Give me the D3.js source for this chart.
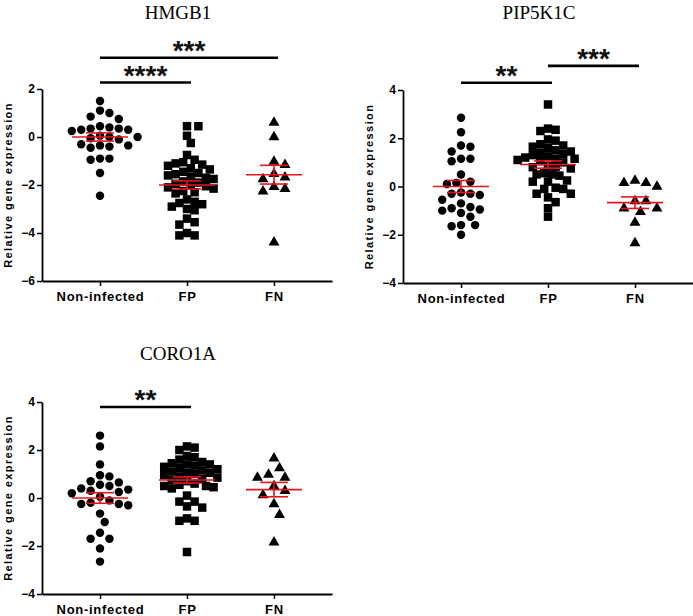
<!DOCTYPE html>
<html>
<head>
<meta charset="utf-8">
<script src="https://cdn.jsdelivr.net/npm/d3@7"></script>
<style>
  body { margin: 0; background: #fff; }
  svg { display: block; }
</style>
</head>
<body>
<svg id="chart" width="693" height="616"></svg>
<script>
var categories = ["Non-infected", "FP", "FN"];

// HMGB1
var hmgb1NonInfected = [1.5, 1.1, 1.0, 0.85, 0.75, 0.45, 0.4, 0.35, 0.35, 0.3, 0.3, 0.25, 0.05, 0.0, 0.0,
  -0.05, -0.1, -0.3, -0.35, -0.4, -0.45, -0.35, -0.9, -0.95, -0.9, -1.5, -2.45];
var hmgb1FP = [0.45, 0.45, 0.05, -0.25, -0.75, -0.95, -1.05, -1.1, -1.15, -1.2, -1.3, -1.35, -1.45, -1.5,
  -1.55, -1.6, -1.65, -1.7, -1.75, -1.85, -1.9, -1.95, -2.0, -2.05, -2.1, -2.15, -2.25, -2.3, -2.35,
  -2.6, -2.7, -2.75, -2.8, -2.9, -3.0, -3.05, -3.4, -3.55, -3.65, -4.0, -4.1, -4.1];
var hmgb1FN = [0.6, 0.0, -1.02, -1.16, -1.54, -1.68, -1.75, -2.16, -2.26, -2.08, -4.39];
var hmgb1Mean = [0.0, -2.0, -1.57];
var hmgb1Sem = [0.17, 0.17, 0.39];
var hmgb1Ticks = [-6, -4, -2, 0, 2];
var hmgb1Sig = [
  { from: "Non-infected", to: "FP", label: "****", level: 2.27 },
  { from: "Non-infected", to: "FN", label: "***", level: 3.3 }
];

// PIP5K1C
var pipNonInfected = [2.85, 2.25, 1.7, 1.65, 1.45, 1.15, 1.15, 1.05, 0.5, 0.2, 0.15, 0.1, -0.3, -0.3,
  -0.35, -0.25, -0.55, -0.7, -0.9, -0.95, -1.0, -1.1, -0.85, -1.25, -1.6, -1.6, -1.65, -2.0];
var pipFP = [3.4, 2.4, 2.3, 2.35, 1.95, 1.9, 1.75, 1.7, 1.65, 1.6, 1.5, 1.45, 1.4, 1.35, 1.3, 1.25, 1.2,
  1.15, 1.15, 1.1, 1.05, 1.0, 0.85, 0.8, 0.8, 0.75, 0.55, 0.5, 0.5, 0.45, 0.25, 0.2, 0.2, -0.05, -0.1,
  -0.1, -0.3, -0.3, -0.45, -0.65, -0.9, -1.25];
var pipFN = [0.25, 0.15, 0.0, 0.15, -0.6, -0.6, -0.9, -1.05, -0.9, -1.5, -2.35];
var pipMean = [0.0, 0.91, -0.67];
var pipSem = [0.25, 0.15, 0.24];
var pipTicks = [-4, -2, 0, 2, 4];
var pipSig = [
  { from: "Non-infected", to: "FP", label: "**", level: 4.3 },
  { from: "FP", to: "FN", label: "***", level: 5.0 }
];

// CORO1A
var coroNonInfected = [2.6, 2.15, 1.4, 0.95, 0.9, 0.7, 0.65, 0.55, 0.5, 0.4, 0.35, 0.3, 0.25, 0.2, 0.05,
  -0.1, -0.2, -0.25, -0.3, -0.25, -0.65, -1.0, -1.45, -1.7, -1.7, -2.1, -2.65];
var coroFP = [2.15, 2.1, 2.0, 1.75, 1.7, 1.6, 1.5, 1.45, 1.4, 1.4, 1.35, 1.3, 1.25, 1.2, 1.15, 1.1, 1.05,
  1.05, 1.0, 0.95, 0.9, 0.85, 0.8, 0.75, 0.7, 0.6, 0.55, 0.5, 0.5, 0.45, 0.4, 0.1, -0.15, -0.15, -0.35,
  -0.4, -0.85, -0.95, -0.95, -2.25];
var coroFN = [1.65, 1.25, 0.98, 0.85, 0.85, 0.5, 0.3, 0.12, -0.25, -0.7, -1.85];
var coroMean = [0.0, 0.75, 0.35];
var coroSem = [0.22, 0.13, 0.3];
var coroTicks = [-4, -2, 0, 2, 4];
var coroSig = [
  { from: "Non-infected", to: "FP", label: "**", level: 3.79 }
];

var panels = [
  { title: "HMGB1", groups: [hmgb1NonInfected, hmgb1FP, hmgb1FN], mean: hmgb1Mean, sem: hmgb1Sem,
    ticks: hmgb1Ticks, sig: hmgb1Sig, x: 42, top: 89, bottom: 281, titleY: 19 },
  { title: "PIP5K1C", groups: [pipNonInfected, pipFP, pipFN], mean: pipMean, sem: pipSem,
    ticks: pipTicks, sig: pipSig, x: 403, top: 90, bottom: 283, titleY: 19 },
  { title: "CORO1A", groups: [coroNonInfected, coroFP, coroFN], mean: coroMean, sem: coroSem,
    ticks: coroTicks, sig: coroSig, x: 42, top: 402, bottom: 594, titleY: 360 }
];

var shapes = [d3.symbolCircle, d3.symbolSquare, d3.symbolTriangle];
var shapeSize = [56, 72, 52];
var minDist = [9.4, 7.6, 11];
var red = "#e8141c";

var svg = d3.select("#chart");
svg.append("rect").attr("width", 693).attr("height", 616).attr("fill", "#fff");

// simple beeswarm: sorted by value, each point takes the nearest free slot
function swarm(values, y, cx, dist) {
  var step = dist / 2;
  var pts = values.map(function (v) { return { v: v, y: y(v) }; })
    .sort(function (a, b) { return a.y - b.y; });
  var placed = [];
  pts.forEach(function (p) {
    for (var k = 0; k < 60; k++) {
      var off = k === 0 ? 0 : (k % 2 ? 1 : -1) * Math.ceil(k / 2) * step;
      var ok = placed.every(function (q) {
        return Math.hypot(q.x - (cx + off), q.y - p.y) >= dist;
      });
      if (ok || k === 59) { p.x = cx + off; break; }
    }
    placed.push(p);
  });
  return pts;
}

panels.forEach(function (pn) {
  var g = svg.append("g").attr("transform", "translate(" + pn.x + ",0)");
  var xScale = d3.scalePoint().domain(categories).range([0, 290]).padding(0.667);
  var yScale = d3.scaleLinear().domain(d3.extent(pn.ticks)).range([pn.bottom, pn.top]);

  svg.append("text")
    .attr("x", pn.x + 136)
    .attr("y", pn.titleY)
    .attr("text-anchor", "middle")
    .style("font-family", "Liberation Serif, Times New Roman, serif")
    .style("font-size", "19px")
    .text(pn.title);

  // y axis
  var ya = g.append("g")
    .call(d3.axisLeft(yScale).tickValues(pn.ticks).tickSize(5).tickPadding(2).tickSizeOuter(0));
  ya.select(".domain").attr("stroke-width", 1.8);
  ya.selectAll(".tick line").attr("stroke-width", 1.5);
  ya.selectAll("text")
    .style("font-family", "Liberation Sans, Arial, sans-serif")
    .style("font-weight", "bold")
    .style("font-size", "12px");

  // x axis
  var xa = g.append("g")
    .attr("transform", "translate(0," + pn.bottom + ")")
    .call(d3.axisBottom(xScale).tickSize(5).tickPadding(6).tickSizeOuter(0));
  xa.select(".domain").attr("stroke-width", 1.8);
  xa.selectAll(".tick line").attr("stroke-width", 1.5);
  xa.selectAll("text")
    .style("font-family", "Liberation Sans, Arial, sans-serif")
    .style("font-weight", "bold")
    .style("font-size", "13px")
    .style("letter-spacing", "0.7px");

  g.append("text")
    .attr("text-anchor", "middle")
    .attr("transform", "translate(-30," + (pn.top + pn.bottom) / 2 + ")rotate(-90)")
    .style("font-family", "Liberation Sans, Arial, sans-serif")
    .style("font-weight", "bold")
    .style("font-size", "11px")
    .style("letter-spacing", "1.4px")
    .text("Relative gene expression");

  // points
  pn.groups.forEach(function (vals, i) {
    var pts = swarm(vals, yScale, xScale(categories[i]), minDist[i]);
    g.selectAll(null)
      .data(pts)
      .enter()
      .append("path")
      .attr("d", d3.symbol().type(shapes[i]).size(shapeSize[i]))
      .attr("transform", function (d) { return "translate(" + d.x + "," + d.y + ")"; })
      .attr("fill", "#000");
  });

  // mean and SEM
  categories.forEach(function (c, i) {
    var cx = xScale(c), m = pn.mean[i], s = pn.sem[i];
    var eb = g.append("g").attr("stroke", red).attr("stroke-width", 1.6).attr("fill", "none");
    eb.append("line").attr("x1", cx - 28).attr("x2", cx + 28)
      .attr("y1", yScale(m)).attr("y2", yScale(m));
    eb.append("line").attr("x1", cx).attr("x2", cx)
      .attr("y1", yScale(m + s)).attr("y2", yScale(m - s));
    [m + s, m - s].forEach(function (v) {
      eb.append("line").attr("x1", cx - 14).attr("x2", cx + 14)
        .attr("y1", yScale(v)).attr("y2", yScale(v));
    });
  });

  // significance bars
  pn.sig.forEach(function (s) {
    var x1 = xScale(s.from), x2 = xScale(s.to) + 4, yy = yScale(s.level);
    g.append("line").attr("x1", x1).attr("x2", x2).attr("y1", yy).attr("y2", yy)
      .attr("stroke", "#000").attr("stroke-width", 2.6);
    g.append("text")
      .attr("x", (x1 + x2) / 2)
      .attr("y", yy + 2)
      .attr("text-anchor", "middle")
      .style("font-family", "Liberation Sans, Arial, sans-serif")
      .style("font-weight", "bold")
      .style("font-size", "28px")
      .attr("fill", "#111")
      .text(s.label);
  });
});
</script>
</body>
</html>
